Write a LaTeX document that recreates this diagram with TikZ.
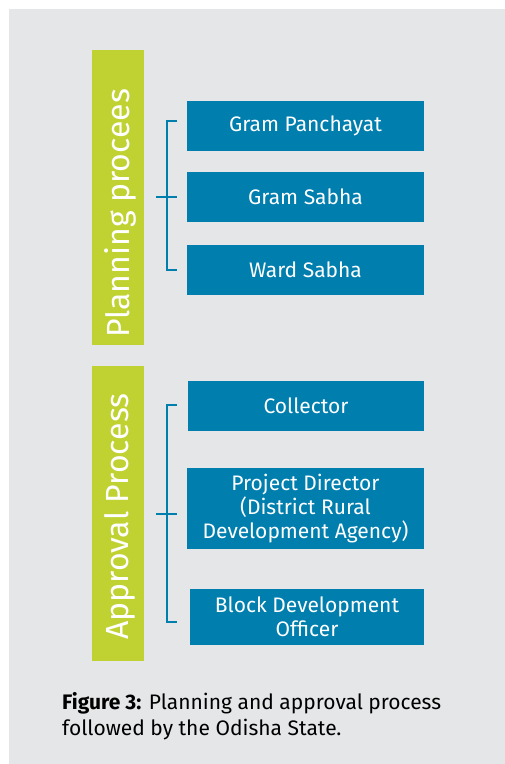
\documentclass[tikz,border=0pt]{standalone}
\usepackage{fontspec}
\setmainfont{Fira Sans}
\usepackage{xcolor}
\usepackage{tikz}
\usetikzlibrary{calc}

\definecolor{panelgray}{RGB}{229,230,232}
\definecolor{bargreen}{RGB}{192,210,50}
\definecolor{boxblue}{RGB}{0,126,174}

\tikzset{
	phase/.style={fill=bargreen, minimum width=52pt, inner sep=0pt},
	phasetext/.style={rotate=90, text=white, inner sep=0pt, font=\fontsize{32}{32}\selectfont},
	stage/.style={fill=boxblue, text=white, minimum width=237pt, inner sep=0pt, align=center, font=\fontsize{21}{24}\selectfont},
	brace/.style={draw=boxblue, line width=2.5pt}
}

\begin{document}
\begin{tikzpicture}[x=1pt,y=-1pt]
			\useasboundingbox (0,0) rectangle (505,764);
			\fill[panelgray] (9,9) rectangle (505,764);

			% planning
			\node[phase, minimum height=295pt] (plan) at (118,197.5) {};
			\node[phasetext] (plantext) at (120,213.5) {Planning procees};

			\node[stage, minimum height=50pt] (gp) at (305.5,126) {Gram Panchayat};
			\node[stage, minimum height=50pt] (gs) at (305.5,197) {Gram Sabha};
			\node[stage, minimum height=50pt] (ws) at (305.5,270) {Ward Sabha};

			\coordinate (planTop) at (177,121);
			\coordinate (planMid) at (156,197);
			\coordinate (planBot) at (177,270);
			\draw[brace] (planTop) -- ++(-10,0) |- (planBot);
			\draw[brace] (planMid) -- (planMid -| planTop);

			% approval
			\node[phase, minimum height=295pt] (appr) at (118,513.5) {};
			\node[phasetext] (apprtext) at (120,516.5) {Approval Process};

			\node[stage, minimum width=236pt, minimum height=50pt] (coll) at (306,406) {Collector};
			\node[stage, minimum height=81pt] (pd) at (305.5,508.5) {Project Director\\(District Rural\\Development Agency)};
			\node[stage, minimum width=234pt, minimum height=56pt] (bdo) at (307,617) {Block Development\\Officer};

			\coordinate (apprTop) at (177,405);
			\coordinate (apprMid) at (156,514);
			\coordinate (apprBot) at (177,622);
			\draw[brace] (apprTop) -- ++(-10,0) |- (apprBot);
			\draw[brace] (apprMid) -- (apprMid -| apprTop);

			% caption
			\node[anchor=base west, align=left, inner sep=0pt, font=\fontsize{21}{26}\selectfont] (caption) at (62,735)
			{\textbf{Figure 3:} Planning and approval process\\followed by the Odisha State.};
		\end{tikzpicture}
\end{document}
